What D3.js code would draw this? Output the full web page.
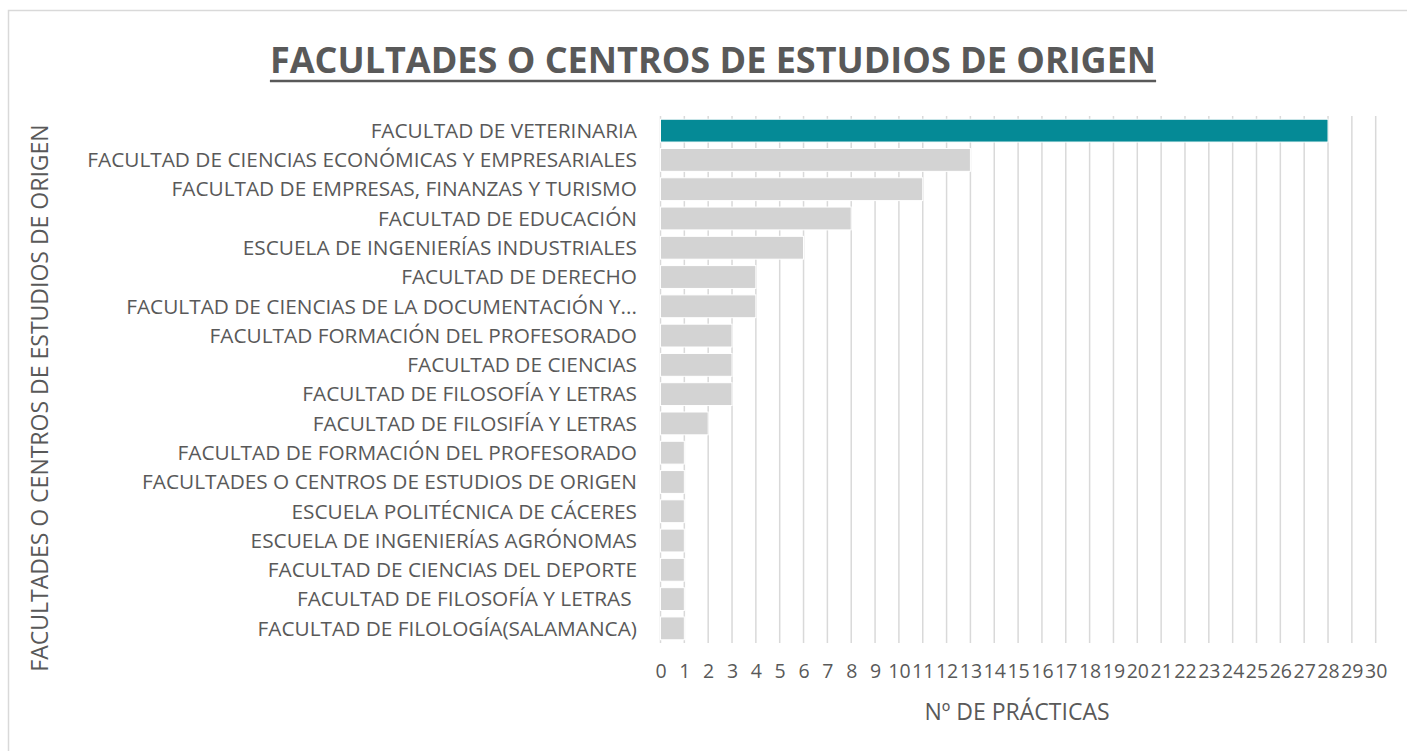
<!DOCTYPE html>
<html>
<head>
<meta charset="utf-8">
<script src="https://cdn.jsdelivr.net/npm/d3@7"></script>
<style>
  body { margin: 0; background: #fff; }
  text { font-family: "Open Sans", "Noto Sans", sans-serif; fill: #595959; }
</style>
</head>
<body>
<script>
// data
var categories = [
  "FACULTAD DE VETERINARIA",
  "FACULTAD DE CIENCIAS ECONÓMICAS Y EMPRESARIALES",
  "FACULTAD DE EMPRESAS, FINANZAS Y TURISMO",
  "FACULTAD DE EDUCACIÓN",
  "ESCUELA DE INGENIERÍAS INDUSTRIALES",
  "FACULTAD DE DERECHO",
  "FACULTAD DE CIENCIAS DE LA DOCUMENTACIÓN Y...",
  "FACULTAD FORMACIÓN DEL PROFESORADO",
  "FACULTAD DE CIENCIAS",
  "FACULTAD DE FILOSOFÍA Y LETRAS",
  "FACULTAD DE FILOSIFÍA Y LETRAS",
  "FACULTAD DE FORMACIÓN DEL PROFESORADO",
  "FACULTADES O CENTROS DE ESTUDIOS DE ORIGEN",
  "ESCUELA POLITÉCNICA DE CÁCERES",
  "ESCUELA DE INGENIERÍAS AGRÓNOMAS",
  "FACULTAD DE CIENCIAS DEL DEPORTE",
  "FACULTAD DE FILOSOFÍA Y LETRAS ",
  "FACULTAD DE FILOLOGÍA(SALAMANCA)"
];
var practicas = [28, 13, 11, 8, 6, 4, 4, 3, 3, 3, 2, 1, 1, 1, 1, 1, 1, 1];
var xTicks = d3.range(0, 31);

var title = "FACULTADES O CENTROS DE ESTUDIOS DE ORIGEN";
var yTitle = "FACULTADES O CENTROS DE ESTUDIOS DE ORIGEN";
var xTitle = "Nº DE PRÁCTICAS";

function init(){
    var w = 1407;
    var h = 751;

    var svg = d3.select("body")
                .append("svg")
                .attr("width", w)
                .attr("height", h);

    // chart border
    svg.append("rect")
        .attr("x", 8.5).attr("y", 10.5)
        .attr("width", 1420).attr("height", 760)
        .attr("fill", "none")
        .attr("stroke", "#d9d9d9")
        .attr("stroke-width", 1.5);

    var plot = {left: 660.5, right: 1375.7, top: 116, bottom: 643};

    var x = d3.scaleLinear()
              .domain([0, 30])
              .range([plot.left, plot.right]);

    var y = d3.scaleBand()
              .domain(d3.range(categories.length))
              .range([plot.top, plot.bottom])
              .paddingInner(0.22)
              .paddingOuter(0.11);

    // gridlines
    svg.append("g")
        .selectAll("line")
        .data(xTicks)
        .enter()
        .append("line")
        .attr("x1", function(d){ return x(d); })
        .attr("x2", function(d){ return x(d); })
        .attr("y1", plot.top)
        .attr("y2", plot.bottom)
        .attr("stroke", "#d9d9d9")
        .attr("stroke-width", 1.5);

    // bars
    svg.append("g")
        .selectAll("rect")
        .data(practicas)
        .enter()
        .append("rect")
        .attr("x", x(0))
        .attr("y", function(d, i){ return y(i); })
        .attr("width", function(d){ return x(d) - x(0); })
        .attr("height", y.bandwidth())
        .attr("fill", function(d, i){ return i === 0 ? "#058a96" : "#d3d3d3"; })
        .attr("stroke", "#fff")
        .attr("stroke-width", 1);

    // category labels
    svg.append("g")
        .selectAll("text")
        .data(categories)
        .enter()
        .append("text")
        .attr("x", 637)
        .attr("y", function(d, i){ return y(i) + y.bandwidth() / 2; })
        .attr("dy", "0.35em")
        .attr("text-anchor", "end")
        .style("font-size", "20.8px")
        .style("white-space", "pre")
        .text(function(d){ return d; });

    // x axis
    var xAxis = d3.axisBottom(x)
                  .tickValues(xTicks)
                  .tickSize(0)
                  .tickPadding(0)
                  .tickFormat(d3.format("d"));

    var gx = svg.append("g")
        .attr("transform", "translate(0," + 671 + ")")
        .call(xAxis);
    gx.select(".domain").remove();
    gx.selectAll("text")
        .attr("dy", "0.35em")
        .attr("y", 0)
        .style("font-size", "19.5px")
        .style("fill", "#595959")
        .style("font-family", "\"Open Sans\", sans-serif");

    // axis titles
    svg.append("text")
        .attr("x", 1017)
        .attr("y", 712)
        .attr("dy", "0.35em")
        .attr("text-anchor", "middle")
        .style("font-size", "23px")
        .text(xTitle);

    svg.append("text")
        .attr("transform", "translate(40," + 398 + ") rotate(-90)")
        .attr("dy", "0.35em")
        .attr("text-anchor", "middle")
        .style("font-size", "23px")
        .text(yTitle);

    // title
    var t = svg.append("text")
        .attr("x", 713)
        .attr("y", 60)
        .attr("dy", "0.35em")
        .attr("text-anchor", "middle")
        .style("font-size", "36px")
        .style("font-weight", "bold")
        .text(title);
    var bb = t.node().getBBox();
    svg.append("line")
        .attr("x1", bb.x).attr("x2", bb.x + bb.width)
        .attr("y1", 81).attr("y2", 81)
        .attr("stroke", "#595959")
        .attr("stroke-width", 2.5);
}
window.onload = init;
</script>
</body>
</html>
